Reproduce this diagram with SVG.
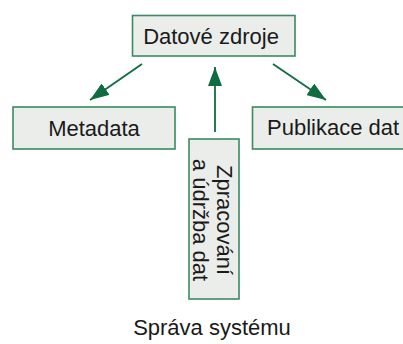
<svg xmlns="http://www.w3.org/2000/svg" width="403" height="344" viewBox="0 0 403 344">
<defs>
<style>
.box{fill:#ebedeb;stroke:#3a8a62;stroke-width:1.6}
.lbl{font-family:"Liberation Sans",Arial,sans-serif;font-size:22px;fill:#1a1a1a}
.conn{stroke:#0f6b40;stroke-width:1.8;fill:none}
</style>
<marker id="ah" markerUnits="userSpaceOnUse" markerWidth="20" markerHeight="14" refX="19" refY="7" orient="auto">
<path d="M0,0 L19,7 L0,14 z" fill="#0f6b40"/>
</marker>
</defs>
<rect width="403" height="344" fill="#ffffff"/>
<g id="connectors">
<line class="conn" x1="142" y1="64" x2="90" y2="100" marker-end="url(#ah)"/>
<line class="conn" x1="215" y1="132" x2="215" y2="67" marker-end="url(#ah)"/>
<line class="conn" x1="273" y1="64" x2="326" y2="100" marker-end="url(#ah)"/>
</g>
<g id="datove-zdroje">
<rect class="box" x="132.5" y="15.5" width="162.5" height="40.5"/>
<text class="lbl" x="211" y="44" text-anchor="middle">Datové zdroje</text>
</g>
<g id="metadata">
<rect class="box" x="13" y="107" width="162" height="42"/>
<text class="lbl" x="94" y="136" text-anchor="middle">Metadata</text>
</g>
<g id="publikace-dat">
<rect class="box" x="252.5" y="107" width="155" height="42"/>
<text class="lbl" x="267" y="135">Publikace dat</text>
</g>
<g id="zpracovani">
<rect class="box" x="189" y="139" width="50" height="160"/>
<g transform="translate(216.7,220) rotate(90)">
<text class="lbl" x="0" y="0" text-anchor="middle">Zpracování</text>
<text class="lbl" x="0" y="23.4" text-anchor="middle">a údržba dat</text>
</g>
</g>
<g id="sprava-systemu">
<text class="lbl" x="212" y="335" text-anchor="middle">Správa systému</text>
</g>
</svg>
